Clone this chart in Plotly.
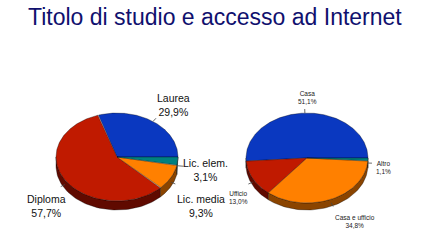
import numpy as np
import plotly.graph_objects as go

# ---- data ----
edu_labels = ["Laurea", "Diploma", "Lic. media", "Lic. elem."]
edu_values = [29.9, 57.7, 9.3, 3.1]
acc_labels = ["Casa", "Ufficio", "Casa e ufficio", "Altro"]
acc_values = [51.1, 13.0, 34.8, 1.1]
title_text = "Titolo di studio e accesso ad Internet"

# ---- style ----
top_cols_edu = ["#0A38C0", "#C01A00", "#FF8000", "#008080"]
side_cols_edu = ["#051C60", "#600A00", "#8A4400", "#004040"]
top_cols_acc = ["#0A38C0", "#C01A00", "#FF8000", "#008080"]
side_cols_acc = ["#051C60", "#600A00", "#8A4400", "#004040"]

fig = go.Figure()


def pie3d(values, cx, cy, rx, ry, depth, tops, sides):
    vals = np.array(values, dtype=float)
    frac = vals / vals.sum()
    edges = np.concatenate([[0.0], np.cumsum(frac) * 360.0])
    # sides first
    for i in range(len(vals)):
        a0, a1 = edges[i], edges[i + 1]
        s0, s1 = max(a0, 180.0), min(a1, 360.0)
        if s1 > s0:
            t = np.radians(np.linspace(s0, s1, 60))
            xs = cx + rx * np.cos(t)
            ys = cy - ry * np.sin(t)
            px = np.concatenate([xs, xs[::-1], xs[:1]])
            py = np.concatenate([ys, ys[::-1] + depth, ys[:1]])
            fig.add_trace(go.Scatter(x=px, y=py, fill="toself", mode="lines",
                                     fillcolor=sides[i],
                                     line=dict(color="rgba(0,0,0,0.55)", width=0.6),
                                     hoverinfo="skip", showlegend=False))
    for i in range(len(vals)):
        a0, a1 = edges[i], edges[i + 1]
        t = np.radians(np.linspace(a0, a1, max(8, int((a1 - a0) * 1.5))))
        xs = cx + rx * np.cos(t)
        ys = cy - ry * np.sin(t)
        px = np.concatenate([[cx], xs, [cx]])
        py = np.concatenate([[cy], ys, [cy]])
        fig.add_trace(go.Scatter(x=px, y=py, fill="toself", mode="lines",
                                 fillcolor=tops[i],
                                 line=dict(color="rgba(0,0,0,0.55)", width=0.6),
                                 hoverinfo="skip", showlegend=False))
    return edges


def leaders(edges, cx, cy, rx, ry, depth, lens):
    for i in range(len(edges) - 1):
        m = np.radians((edges[i] + edges[i + 1]) / 2)
        x0 = cx + rx * np.cos(m)
        y0 = cy - ry * np.sin(m)
        if np.sin(m) < 0:
            y0 += depth / 2
        L = lens[i]
        x1 = x0 + L * np.cos(m)
        y1 = y0 - L * np.sin(m) * 0.8
        fig.add_trace(go.Scatter(x=[x0, x1], y=[y0, y1], mode="lines",
                                 line=dict(color="#444444", width=0.8),
                                 hoverinfo="skip", showlegend=False))


e1 = pie3d(edu_values, 117, 157, 61, 44, 9, top_cols_edu, side_cols_edu)
e2 = pie3d(acc_values, 307, 158, 61, 45, 7, top_cols_acc, side_cols_acc)
leaders(e1, 117, 157, 61, 44, 9, [5, 5, 5, 6])
leaders(e2, 307, 158, 61, 45, 7, [5, 5, 5, 4])

font = "Liberation Sans, Arial, sans-serif"
edu_pos = [(173, 105), (46, 206), (201, 206), (205, 170)]
acc_pos = [(307, 97), (238, 197), (355, 221), (383, 167)]
for lab, v, (x, y) in zip(edu_labels, edu_values, edu_pos):
    fig.add_annotation(x=x, y=y, text=f"{lab}<br>{str(v).replace('.', ',')}%",
                       showarrow=False, font=dict(family=font, size=10.5, color="#111111"))
for lab, v, (x, y) in zip(acc_labels, acc_values, acc_pos):
    fig.add_annotation(x=x, y=y, text=f"{lab}<br>{str(v).replace('.', ',')}%",
                       showarrow=False, font=dict(family=font, size=6.5, color="#222222"))

fig.add_annotation(x=215, y=17, text=title_text, showarrow=False,
                   font=dict(family=font, size=23, color="#10106E"))

fig.update_layout(width=430, height=243, margin=dict(l=0, r=0, t=0, b=0),
                  paper_bgcolor="white", plot_bgcolor="white",
                  xaxis=dict(range=[0, 430], visible=False, fixedrange=True),
                  yaxis=dict(range=[243, 0], visible=False, fixedrange=True))
fig.write_html("out.html")
